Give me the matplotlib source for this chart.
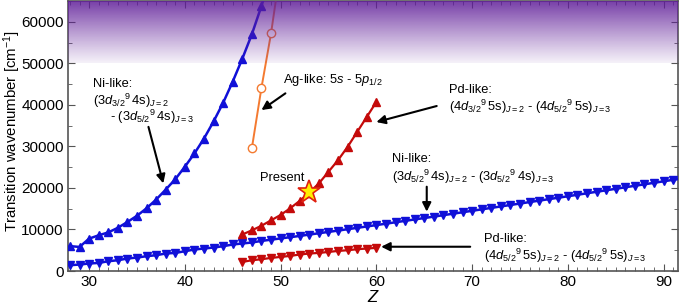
import numpy as np
import matplotlib
matplotlib.use("Agg")
import matplotlib.pyplot as plt

plt.rcParams['font.family'] = ['Liberation Sans', 'DejaVu Sans']
plt.rcParams['mathtext.fontset'] = 'custom'
plt.rcParams['mathtext.rm'] = 'Liberation Sans'
plt.rcParams['mathtext.it'] = 'Liberation Sans:italic'
plt.rcParams['mathtext.bf'] = 'Liberation Sans:bold'

# Ni-like (3d3/2^9 4s)J=2 - (3d5/2^9 4s)J=3
ni_up_z = list(range(28, 50))
ni_up_val = [6000, 5800, 7800, 8600, 9300, 10400, 11800, 13300, 15100, 17200,
             19600, 22100, 25100, 28300, 31900, 36000, 40500, 45600, 51100, 57000,
             63800, 71000]

# Ni-like (3d5/2^9 4s)J=2 - (3d5/2^9 4s)J=3
ni_lo_z = list(range(28, 93))
ni_lo_val = [1400, 1570, 1810, 1950, 2360, 2600, 3010, 3250, 3570, 3810,
             4220, 4360, 4770, 5180, 5420, 5660, 5980, 6390, 6630, 6870,
             7250, 7550, 7850, 8150, 8450, 8780, 9100, 9420, 9740, 10070,
             10400, 10730, 11060, 11400, 11740, 12080, 12420, 12760, 13100, 13450,
             13800, 14150, 14500, 14850, 15200, 15550, 15900, 16250, 16600, 16950,
             17300, 17650, 18000, 18360, 18720, 19080, 19440, 19800, 20160, 20520,
             20880, 21240, 21600, 21960, 22320]

# Pd-like
pd_z = list(range(46, 61))
pd_up_val = [8800, 9800, 10900, 12200, 13500, 15100, 16900, 18900, 21100, 23900,
             26700, 29900, 33500, 37100, 40700]
pd_lo_val = [2190, 2600, 2840, 3160, 3400, 3640, 3980, 4220, 4360, 4600,
             4840, 5010, 5250, 5420, 5570]

# Ag-like 5s - 5p1/2
ag_z = [47, 48, 49, 50]
ag_val = [29600, 44100, 57200, 73000]

present_z = [53]
present_val = [19000]

blue = '#1010d8'
red = '#c40a0a'
orange = '#f47a30'

fig = plt.figure(figsize=(6.85, 3.08), dpi=100)
ax = fig.add_axes([0.0993, 0.120, 0.8905, 0.8768])

xmin, xmax = 27.8, 91.5
ymin, ymax = 0, 65000

ax.plot(ni_up_z, ni_up_val, '-', color=blue, lw=1.8, marker='^', ms=6, zorder=3)
ax.plot(ni_lo_z, ni_lo_val, '-', color=blue, lw=1.8, marker='v', ms=6, zorder=3)
ax.plot(pd_z, pd_up_val, '-', color=red, lw=1.6, marker='^', ms=6, zorder=3)
ax.plot(pd_z, pd_lo_val, '-', color=red, lw=1.6, marker='v', ms=6, zorder=3)
ax.plot(ag_z, ag_val, '-', color=orange, lw=1.4, marker='o', ms=6,
        mfc='white', mec=orange, zorder=3)
ax.plot(present_z, present_val, linestyle='none', marker='*', ms=17,
        mfc='#ffee00', mec='#e02010', mew=1.2, zorder=5)

# purple gradient band above 50000
n = 256
alpha = np.linspace(0.08, 0.88, n) ** 1.1
rgba = np.zeros((n, 2, 4))
rgba[..., 0] = 0.38
rgba[..., 1] = 0.12
rgba[..., 2] = 0.60
rgba[..., 3] = alpha[:, None]
ax.imshow(rgba, extent=[xmin, xmax, 50000, ymax], origin='lower',
          aspect='auto', interpolation='bilinear', zorder=4)

ax.set_xlim(xmin, xmax)
ax.set_ylim(ymin, ymax)
ax.set_xticks([30, 40, 50, 60, 70, 80, 90])
ax.set_xticks(np.arange(28, 92), minor=True)
ax.set_yticks(np.arange(0, 60001, 10000))
ax.set_yticks(np.arange(0, 65001, 5000), minor=True)
ax.tick_params(which='both', direction='in', top=True, right=True,
               labelsize=11, color='#555555', pad=3)
ax.tick_params(which='major', length=5)
ax.tick_params(which='minor', length=3)
for s in ax.spines.values():
    s.set_color('#555555')
    s.set_linewidth(1.2)

ax.set_xlabel('$Z$', fontsize=12, labelpad=0)
ax.set_ylabel('Transition wavenumber [cm$^{-1}$]', fontsize=10.8)
ax.yaxis.set_label_coords(-0.074, 0.52)

fs = 9.3
arrow = dict(arrowstyle='-|>', color='black', lw=1.5, mutation_scale=13,
             shrinkA=0, shrinkB=0)

ax.text(30.4, 45000, 'Ni-like:', fontsize=fs, va='center')
ax.text(30.4, 41000, r'$(3d_{3/2}{}^{9}\,4\mathrm{s})_{J=2}$', fontsize=fs, va='center')
ax.text(32.2, 37000, r'- $(3d_{5/2}{}^{9}\,4\mathrm{s})_{J=3}$', fontsize=fs, va='center')
ax.annotate('', xy=(37.75, 21100), xytext=(36.2, 34700), arrowprops=arrow)

ax.text(50.2, 45970, r'Ag-like: 5$s$ - 5$p_{1/2}$', fontsize=fs, va='center')
ax.annotate('', xy=(48.0, 38750), xytext=(50.5, 42770), arrowprops=arrow)

ax.text(67.6, 43500, 'Pd-like:', fontsize=fs, va='center')
ax.text(67.6, 39400, r'$(4d_{3/2}{}^{9}\,5\mathrm{s})_{J=2}$ - $(4d_{5/2}{}^{9}\,5\mathrm{s})_{J=3}$',
        fontsize=fs, va='center')
ax.annotate('', xy=(60.0, 35860), xytext=(66.3, 39720), arrowprops=arrow)

ax.text(61.6, 26900, 'Ni-like:', fontsize=fs, va='center')
ax.text(61.6, 22600, r'$(3d_{5/2}{}^{9}\,4\mathrm{s})_{J=2}$ - $(3d_{5/2}{}^{9}\,4\mathrm{s})_{J=3}$',
        fontsize=fs, va='center')
ax.annotate('', xy=(65.26, 14300), xytext=(65.26, 20300), arrowprops=arrow)

ax.text(71.2, 7600, 'Pd-like:', fontsize=fs, va='center')
ax.text(71.2, 3750, r'$(4d_{5/2}{}^{9}\,5\mathrm{s})_{J=2}$ - $(4d_{5/2}{}^{9}\,5\mathrm{s})_{J=3}$',
        fontsize=fs, va='center')
ax.annotate('', xy=(60.5, 5850), xytext=(69.8, 5850), arrowprops=arrow)

ax.text(47.9, 22460, 'Present', fontsize=fs, va='center')

fig.savefig('out.png', dpi=100)
